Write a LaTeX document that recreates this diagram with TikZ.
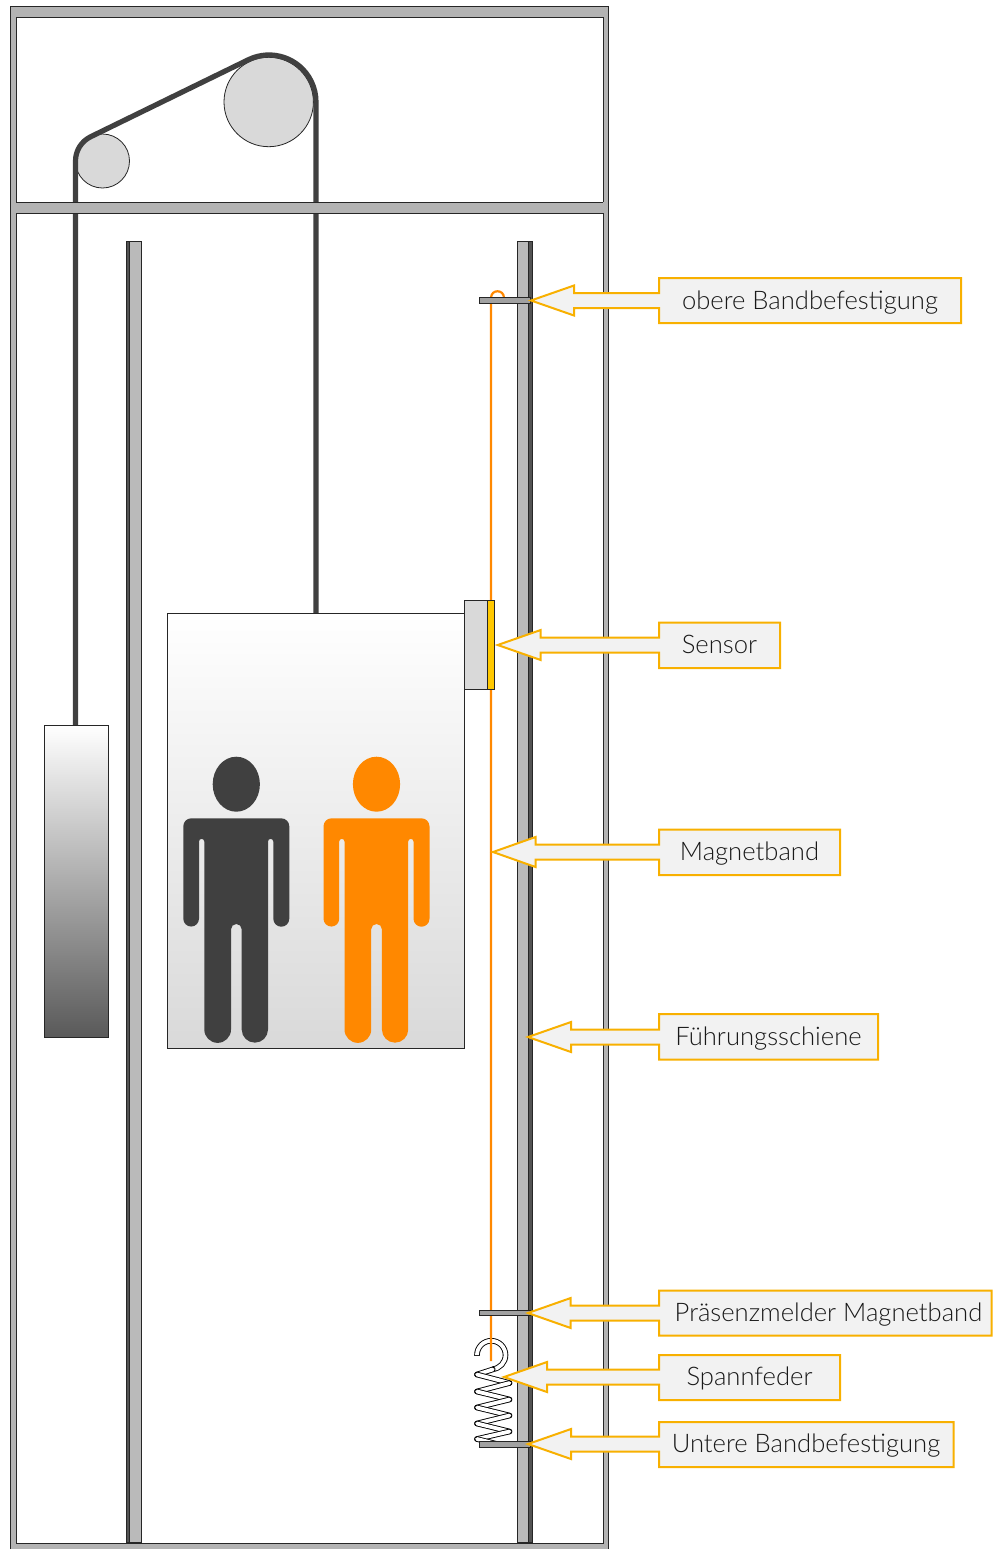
\documentclass[tikz,border=0pt]{standalone}
\usepackage{fontspec}
\setmainfont{Lato Light}[BoldFont={Lato}]
\usetikzlibrary{calc}
\definecolor{wallgray}{HTML}{B3B3B3}
\definecolor{railgray}{HTML}{BABABA}
\definecolor{darkgray}{HTML}{404040}
\definecolor{pulleygray}{HTML}{D9D9D9}
\definecolor{bandorange}{HTML}{FF8800}
\definecolor{sensoryellow}{HTML}{FFC800}
\definecolor{calloutline}{HTML}{F8B000}
\definecolor{calloutfill}{HTML}{F2F2F2}

\begin{document}
\begin{tikzpicture}[
  x=0.5pt, y=0.5pt, yscale=-1,
  font=\fontsize{12.8}{16}\selectfont,
  outline/.style={draw=black!85, line width=0.4pt},
  wall/.style={outline, fill=wallgray},
  rail/.style={outline, fill=railgray},
  railedge/.style={outline, fill=darkgray!90},
  bracket/.style={outline, fill=wallgray!90!black},
  pulley/.style={outline, fill=pulleygray},
  rope/.style={draw=darkgray, line width=2.6pt},
  springwire/.style={draw=black, line width=0.45pt, double=white, double distance=1.9pt},
  callout/.style={draw=calloutline, line width=1pt, fill=calloutfill, miter limit=10},
  calloutlabel/.style={anchor=base, text=black!90},
]
\useasboundingbox (0,0) rectangle (992,1549);

% Shaft walls
\fill[white] (0,0) rectangle (992,1549);
\path[wall] (10,6.5) rectangle (608.5,1549);
\path[outline, fill=white] (16,17) rectangle (603,202);
\path[outline, fill=white] (16,213) rectangle (603,1543);

% Rope over the two pulleys
\path[pulley] (102.5,161) circle [radius=27];
\path[pulley] (268.7,102) circle [radius=44.7];
\draw[rope] (75.5,725) -- (75.5,161) arc[start angle=180, end angle=244, radius=27]
  -- (248.4,59.7) arc[start angle=244, end angle=360, radius=47] -- (316,613.5);
\fill[wallgray] (15.5,202.3) rectangle (603.5,212.7);
\draw[outline] (16,202) -- (603,202);
\draw[outline] (16,213) -- (603,213);

% Guide rails
\path[rail] (126,241.5) rectangle (141,1542);
\path[railedge] (126,241.5) rectangle (129,1542);
\path[rail] (517.3,241.5) rectangle (532,1542);
\path[railedge] (528.6,241.5) rectangle (532,1542);

% Counterweight and car
\path[outline, top color=white, bottom color=black!65] (44,725) rectangle (108.5,1037.5);
\path[outline, top color=white, bottom color=pulleygray] (167,613.5) rectangle (464,1048);

% Two persons in the car
\foreach \px/\personcolor in {0/darkgray, 140.2/bandorange} {
  \begin{scope}[shift={(\px,0)}]
    \fill[\personcolor] (236.3,784.2) ellipse [x radius=23.6, y radius=27.5];
    \fill[\personcolor] (191.3,818.3) -- (281.3,818.3) arc[start angle=-90, end angle=0, radius=8]
      -- (289.3,918.7) arc[start angle=0, end angle=180, radius=8]
      -- (273.3,841.5) arc[start angle=0, end angle=-180, radius=2.65]
      -- (268,1029.5) arc[start angle=0, end angle=180, radius=13.15]
      -- (241.7,929.3) arc[start angle=0, end angle=-180, radius=5.35]
      -- (231,1029.5) arc[start angle=0, end angle=180, radius=13.35]
      -- (204.3,841.5) arc[start angle=0, end angle=-180, radius=2.65]
      -- (199,918.7) arc[start angle=0, end angle=180, radius=7.85]
      -- (183.3,826.3) arc[start angle=180, end angle=270, radius=8] -- cycle;
  \end{scope}
}

% Spring
\draw[springwire] (477,1355) arc[start angle=180, end angle=445, radius=14.25];
\draw[outline] (474,1355) -- (480,1355);
\foreach \xa/\ya/\xb/\yb in {492.8/1369.4/477/1374.5, 477/1374.5/509.5/1383, 509.5/1383/477/1391.5,
    477/1391.5/509.5/1399.5, 509.5/1399.5/477/1407.5, 477/1407.5/509.5/1415.5,
    509.5/1415.5/477/1423.5, 477/1423.5/509.5/1431.5, 509.5/1431.5/477/1439, 477/1439/497/1444} {
  \draw[springwire, line cap=round] (\xa,\ya) -- (\xb,\yb);
}

% Magnet tape
\draw[bandorange, line width=1.1pt] (491,1361) -- (491,298)
  .. controls (491,289) and (504,289) .. (504,298);

% Sensor on the car
\path[outline, fill=pulleygray] (464.3,600) rectangle (487.3,689.3);
\path[outline, fill=sensoryellow] (487.3,600) rectangle (494.7,689.3);

% Brackets
\path[bracket] (479,297.7) rectangle (530.7,303);
\path[bracket] (479,1310.2) rectangle (530.7,1315.5);
\path[bracket] (479,1441.5) rectangle (530.7,1447);

% Callouts
\draw[callout] (531,300.5) -- (574,285.5) -- (574,293) -- (659,293) -- (659,278) -- (961,278)
  -- (961,323) -- (659,323) -- (659,308) -- (574,308) -- (574,315.5) -- cycle
  (810,309) node[calloutlabel] (obere) {obere Bandbefestigung};
\draw[callout] (497.7,645) -- (540.7,630) -- (540.7,637.7) -- (659,637.7) -- (659,622.5) -- (780,622.5)
  -- (780,668) -- (659,668) -- (659,652.5) -- (540.7,652.5) -- (540.7,660) -- cycle
  (719.5,653.5) node[calloutlabel] (sensor) {Sensor};
\draw[callout] (493,852) -- (535.5,837) -- (535.5,844.5) -- (659,844.5) -- (659,829.5) -- (840,829.5)
  -- (840,875) -- (659,875) -- (659,859.5) -- (535.5,859.5) -- (535.5,867) -- cycle
  (749.5,860.5) node[calloutlabel] (magnetband) {Magnetband};
\draw[callout] (528,1037) -- (571,1022) -- (571,1029.5) -- (659,1029.5) -- (659,1014) -- (878,1014)
  -- (878,1059.5) -- (659,1059.5) -- (659,1044.5) -- (571,1044.5) -- (571,1052) -- cycle
  (768.5,1045.5) node[calloutlabel] (schiene) {Führungsschiene};
\draw[callout] (528,1313) -- (570.7,1298) -- (570.7,1305.5) -- (659,1305.5) -- (659,1290.5) -- (991.5,1290.5)
  -- (991.5,1335.5) -- (659,1335.5) -- (659,1320.5) -- (570.7,1320.5) -- (570.7,1328) -- cycle
  (828.5,1321.5) node[calloutlabel] (praesenz) {Präsenzmelder Magnetband};
\draw[callout] (504,1377) -- (547,1362) -- (547,1369.5) -- (659,1369.5) -- (659,1355) -- (840,1355)
  -- (840,1400) -- (659,1400) -- (659,1384.5) -- (547,1384.5) -- (547,1392) -- cycle
  (749.5,1385.5) node[calloutlabel] (feder) {Spannfeder};
\draw[callout] (528,1444) -- (571,1429) -- (571,1436.5) -- (659,1436.5) -- (659,1422) -- (953.5,1422)
  -- (953.5,1467) -- (659,1467) -- (659,1451.5) -- (571,1451.5) -- (571,1459) -- cycle
  (806,1452.5) node[calloutlabel] (untere) {Untere Bandbefestigung};
\end{tikzpicture}
\end{document}
